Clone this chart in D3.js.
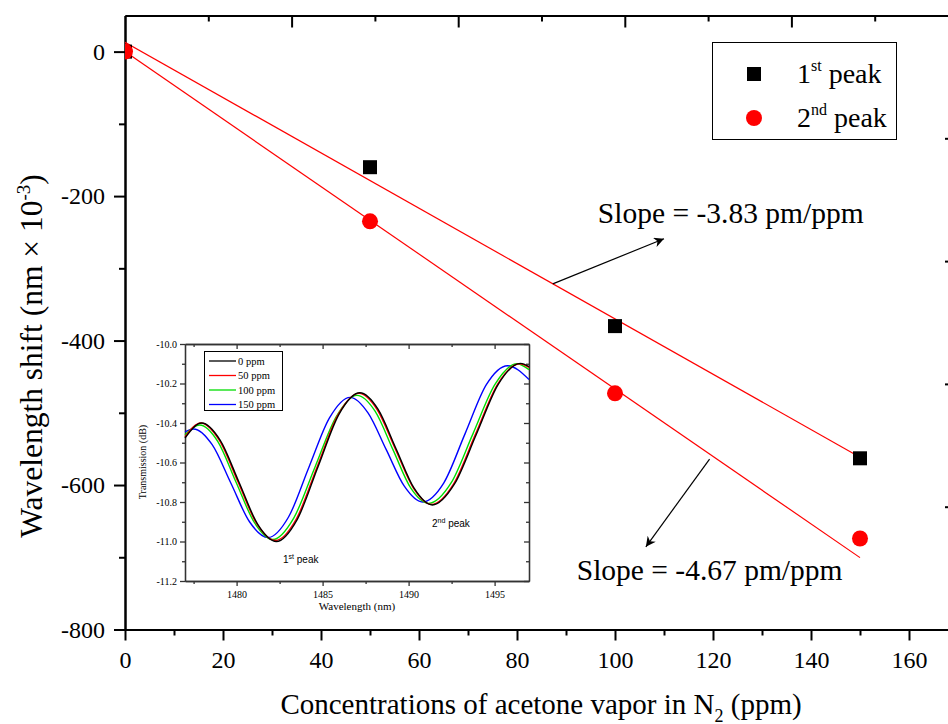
<!DOCTYPE html>
<html>
<head>
<meta charset="utf-8">
<script src="https://cdn.jsdelivr.net/npm/d3@7"></script>
<style>
  body { margin: 0; background: #fff; }
  svg { display: block; }
  text { font-family: "Liberation Serif", "Times New Roman", serif; fill: #000; }
</style>
</head>
<body>
<div id="chart"></div>
<script>
// main plot data (wavelength shift, nm x 10^-3)
var concentrations = [0, 50, 100, 150];
var firstPeakShift = [0, -160, -380, -563];
var secondPeakShift = [0, -235, -473, -674];
var fitSlopes = [-3.83, -4.67];
var fitIntercepts = [13, 0];
var fitLabels = ["Slope = -3.83 pm/ppm", "Slope = -4.67 pm/ppm"];

var xMajorTicks = [0, 20, 40, 60, 80, 100, 120, 140, 160];
var xMinorTicks = [10, 30, 50, 70, 90, 110, 130, 150, 170];
var yMajorTicks = [0, -200, -400, -600, -800];
var yMinorTicks = [-100, -300, -500, -700];

// inset spectra
var insetSeries = ["0 ppm", "50 ppm", "100 ppm", "150 ppm"];
var insetColors = ["#000000", "#ff0000", "#00dd00", "#0000ff"];
var wl0 = [1477.0, 1477.97, 1479.05, 1480.14, 1481.22, 1482.31, 1483.52, 1484.74, 1485.95, 1487.17,
           1488.22, 1489.27, 1490.32, 1491.38, 1492.66, 1493.94, 1495.22, 1496.5, 1497.0];
var tr0 = [-10.476, -10.40, -10.488, -10.70, -10.912, -11.00, -10.889, -10.62, -10.356, -10.247,
           -10.33, -10.53, -10.73, -10.815, -10.71, -10.457, -10.203, -10.098, -10.115];
var wl50 = [1477.0, 1477.92, 1479.0, 1480.09, 1481.17, 1482.26, 1483.47, 1484.69, 1485.9, 1487.12,
            1488.17, 1489.22, 1490.27, 1491.33, 1492.61, 1493.89, 1495.17, 1496.45, 1497.0];
var tr50 = [-10.47, -10.40, -10.488, -10.70, -10.91, -10.995, -10.886, -10.62, -10.358, -10.25,
            -10.332, -10.53, -10.728, -10.812, -10.709, -10.456, -10.204, -10.10, -10.118];
var wl100 = [1477.0, 1477.85, 1478.91, 1479.97, 1481.04, 1482.10, 1483.33, 1484.55, 1485.78, 1487.0,
             1488.05, 1489.09, 1490.13, 1491.17, 1492.46, 1493.74, 1495.02, 1496.3, 1497.0];
var tr100 = [-10.46, -10.41, -10.494, -10.70, -10.905, -10.99, -10.88, -10.625, -10.37, -10.26,
             -10.34, -10.535, -10.73, -10.807, -10.705, -10.455, -10.205, -10.10, -10.13];
var wl150 = [1477.0, 1477.5, 1478.58, 1479.67, 1480.75, 1481.83, 1483.02, 1484.2, 1485.4, 1486.6,
             1487.65, 1488.7, 1489.75, 1490.8, 1492.04, 1493.28, 1494.52, 1495.75, 1497.0];
var tr150 = [-10.445, -10.43, -10.51, -10.705, -10.90, -10.98, -10.876, -10.625, -10.374, -10.27,
             -10.35, -10.535, -10.72, -10.80, -10.704, -10.455, -10.206, -10.11, -10.18];
var insetXTicks = [1480, 1485, 1490, 1495];
var insetXMinor = [1477.5, 1482.5, 1487.5, 1492.5];
var insetYTicks = [-10.0, -10.2, -10.4, -10.6, -10.8, -11.0, -11.2];
var insetYMinor = [-10.1, -10.3, -10.5, -10.7, -10.9, -11.1];

var W = 948, H = 724;
var pLeft = 125, pRight = 958, pTop = 15.5, pBottom = 629.5;
var serif = "'Liberation Serif', 'Times New Roman', serif";

var svg = d3.select("#chart").append("svg")
    .attr("width", W)
    .attr("height", H);

var x = d3.scaleLinear().domain([0, 170]).range([pLeft, pRight]);
var y = d3.scaleLinear().domain([-800, 50]).range([pBottom, pTop]);

var defs = svg.append("defs");
defs.append("clipPath")
    .attr("id", "plot")
    .append("rect")
    .attr("x", pLeft)
    .attr("y", pTop)
    .attr("width", pRight - pLeft)
    .attr("height", pBottom - pTop);

// plain hyphen minus, like the original
var plain = function(d) { return String(d); };

function styleAxis(g) {
    g.attr("font-family", null);
    g.selectAll("path, line").attr("stroke", "#000").attr("stroke-width", 2);
    g.selectAll("text").style("font-family", serif).attr("fill", "#000");
}

// bottom axis
svg.append("g")
    .attr("transform", "translate(0," + pBottom + ")")
    .call(d3.axisBottom(x).tickValues(xMinorTicks).tickSize(6).tickSizeOuter(0).tickFormat(""))
    .call(styleAxis);
svg.append("g")
    .attr("transform", "translate(0," + pBottom + ")")
    .call(d3.axisBottom(x).tickValues(xMajorTicks).tickSize(11).tickPadding(10).tickSizeOuter(0).tickFormat(plain))
    .call(styleAxis)
    .selectAll("text").style("font-size", "24px");

// top axis, ticks inside
var topTicks = d3.range(1, 10).map(function(k) { return k * 17; });
svg.append("g")
    .attr("transform", "translate(0," + pTop + ")")
    .call(d3.axisBottom(x).tickValues(topTicks.filter(function(v, i) { return i % 2 === 0; }))
        .tickSize(6).tickSizeOuter(0).tickFormat(""))
    .call(styleAxis);
svg.append("g")
    .attr("transform", "translate(0," + pTop + ")")
    .call(d3.axisBottom(x).tickValues(topTicks.filter(function(v, i) { return i % 2 === 1; }))
        .tickSize(12).tickSizeOuter(0).tickFormat(""))
    .call(styleAxis);

// left axis
svg.append("g")
    .attr("transform", "translate(" + pLeft + ",0)")
    .call(d3.axisLeft(y).tickValues(yMinorTicks).tickSize(6).tickSizeOuter(0).tickFormat(""))
    .call(styleAxis);
svg.append("g")
    .attr("transform", "translate(" + pLeft + ",0)")
    .call(d3.axisLeft(y).tickValues(yMajorTicks).tickSize(11).tickPadding(9).tickSizeOuter(0).tickFormat(plain))
    .call(styleAxis)
    .selectAll("text").style("font-size", "24px");

// right axis (mostly off the page, only tick tips show)
svg.append("g")
    .attr("transform", "translate(" + pRight + ",0)")
    .call(d3.axisLeft(y).tickValues([-120, -290, -460, -630]).tickSize(13).tickSizeOuter(0).tickFormat(""))
    .call(styleAxis);

// axis titles
var xt = svg.append("text")
    .attr("x", 541)
    .attr("y", 714)
    .attr("text-anchor", "middle")
    .style("font-size", "29px");
xt.append("tspan").text("Concentrations of acetone vapor in N");
xt.append("tspan").attr("dy", 8).style("font-size", "18px").text("2");
xt.append("tspan").attr("dy", -8).text(" (ppm)");

var yt = svg.append("text")
    .attr("transform", "translate(42,356) rotate(-90)")
    .attr("text-anchor", "middle")
    .style("font-size", "31.5px");
yt.append("tspan").text("Wavelength shift (nm \u00d7 10");
yt.append("tspan").attr("dy", -12).style("font-size", "19px").text("-3");
yt.append("tspan").attr("dy", 12).text(")");

// fit lines
var plot = svg.append("g").attr("clip-path", "url(#plot)");
fitSlopes.forEach(function(s, i) {
    plot.append("line")
        .attr("x1", x(0))
        .attr("y1", y(fitIntercepts[i]))
        .attr("x2", x(150))
        .attr("y2", y(fitIntercepts[i] + s * 150))
        .attr("stroke", "#ff0000")
        .attr("stroke-width", 1.2);
});

// markers
plot.selectAll("rect.p1")
    .data(concentrations)
    .enter().append("rect")
    .attr("class", "p1")
    .attr("x", function(d) { return x(d) - 7; })
    .attr("y", function(d, i) { return y(firstPeakShift[i]) - 7; })
    .attr("width", 14)
    .attr("height", 14)
    .attr("fill", "#000");
plot.selectAll("circle.p2")
    .data(concentrations)
    .enter().append("circle")
    .attr("class", "p2")
    .attr("cx", function(d) { return x(d); })
    .attr("cy", function(d, i) { return y(secondPeakShift[i]); })
    .attr("r", 8)
    .attr("fill", "#ff0000");

// arrows + slope labels
defs.append("marker")
    .attr("id", "head")
    .attr("viewBox", "0 0 10 10")
    .attr("refX", 10)
    .attr("refY", 5)
    .attr("markerWidth", 16)
    .attr("markerHeight", 10)
    .attr("markerUnits", "userSpaceOnUse")
    .attr("orient", "auto")
    .append("path")
    .attr("d", "M0,0 L10,5 L0,10 L3,5 Z")
    .attr("fill", "#000");

var arrows = [[87.3, -321.6, 110, -259], [119.3, -564, 106.3, -685.6]];
arrows.forEach(function(a) {
    svg.append("line")
        .attr("x1", x(a[0])).attr("y1", y(a[1]))
        .attr("x2", x(a[2])).attr("y2", y(a[3]))
        .attr("stroke", "#000")
        .attr("stroke-width", 1.2)
        .attr("marker-end", "url(#head)");
});
var labelPos = [[96.5, -237], [92.2, -731]];
fitLabels.forEach(function(t, i) {
    svg.append("text")
        .attr("x", x(labelPos[i][0]))
        .attr("y", y(labelPos[i][1]))
        .style("font-size", "29.5px")
        .text(t);
});

// legend
var legend = svg.append("g");
legend.append("rect")
    .attr("x", 712.5).attr("y", 42.5)
    .attr("width", 184).attr("height", 97)
    .attr("fill", "#fff")
    .attr("stroke", "#000")
    .attr("stroke-width", 1);
legend.append("rect")
    .attr("x", 747).attr("y", 67).attr("width", 14).attr("height", 14)
    .attr("fill", "#000");
legend.append("circle")
    .attr("cx", 754).attr("cy", 118).attr("r", 8)
    .attr("fill", "#ff0000");
var l1 = legend.append("text").attr("x", 797).attr("y", 83).style("font-size", "28px");
l1.append("tspan").text("1");
l1.append("tspan").attr("dy", -12).style("font-size", "16px").text("st");
l1.append("tspan").attr("dy", 12).text(" peak");
var l2 = legend.append("text").attr("x", 797).attr("y", 127).style("font-size", "28px");
l2.append("tspan").text("2");
l2.append("tspan").attr("dy", -12).style("font-size", "16px").text("nd");
l2.append("tspan").attr("dy", 12).text(" peak");

// inset
var ix = d3.scaleLinear().domain([1477, 1497]).range([185, 529]);
var iy = d3.scaleLinear().domain([-11.2, -10.0]).range([581, 344]);
var inset = svg.append("g");
inset.append("rect")
    .attr("x", 185).attr("y", 344)
    .attr("width", 344).attr("height", 237)
    .attr("fill", "#fff");

function styleInset(g) {
    g.attr("font-family", null);
    g.selectAll("path, line").attr("stroke", "#333").attr("stroke-width", 1.3);
    g.selectAll("text").style("font-family", serif).style("font-size", "10px").attr("fill", "#222");
}
inset.append("g").attr("transform", "translate(0,581)")
    .call(d3.axisBottom(ix).tickValues(insetXTicks).tickSize(5).tickPadding(5).tickSizeOuter(0).tickFormat(plain))
    .call(styleInset);
inset.append("g").attr("transform", "translate(0,581)")
    .call(d3.axisBottom(ix).tickValues(insetXMinor).tickSize(3).tickSizeOuter(0).tickFormat(""))
    .call(styleInset);
inset.append("g").attr("transform", "translate(0,344)")
    .call(d3.axisBottom(ix).tickValues(insetXTicks).tickSize(5).tickSizeOuter(0).tickFormat(""))
    .call(styleInset);
inset.append("g").attr("transform", "translate(0,344)")
    .call(d3.axisBottom(ix).tickValues(insetXMinor).tickSize(3).tickSizeOuter(0).tickFormat(""))
    .call(styleInset);
inset.append("g").attr("transform", "translate(185,0)")
    .call(d3.axisLeft(iy).tickValues(insetYTicks).tickSize(5).tickPadding(3).tickSizeOuter(0)
        .tickFormat(function(d) { return d.toFixed(1); }))
    .call(styleInset);
inset.append("g").attr("transform", "translate(185,0)")
    .call(d3.axisLeft(iy).tickValues(insetYMinor).tickSize(3).tickSizeOuter(0).tickFormat(""))
    .call(styleInset);
inset.append("g").attr("transform", "translate(529,0)")
    .call(d3.axisLeft(iy).tickValues(insetYTicks).tickSize(5).tickSizeOuter(0).tickFormat(""))
    .call(styleInset);
inset.append("g").attr("transform", "translate(529,0)")
    .call(d3.axisLeft(iy).tickValues(insetYMinor).tickSize(3).tickSizeOuter(0).tickFormat(""))
    .call(styleInset);

inset.append("text")
    .attr("x", 357).attr("y", 610)
    .attr("text-anchor", "middle")
    .style("font-size", "11px")
    .text("Wavelength (nm)");
inset.append("text")
    .attr("transform", "translate(146,462) rotate(-90)")
    .attr("text-anchor", "middle")
    .style("font-size", "10px")
    .text("Transmission (dB)");

var spectra = [[wl0, tr0], [wl50, tr50], [wl100, tr100], [wl150, tr150]];
var line = d3.line()
    .x(function(d) { return ix(d[0]); })
    .y(function(d) { return iy(d[1]); })
    .curve(d3.curveMonotoneX);
// draw 150 first so black sits on top
[3, 2, 1, 0].forEach(function(k) {
    var pts = spectra[k][0].map(function(w, i) { return [w, spectra[k][1][i]]; });
    inset.append("path")
        .attr("d", line(pts))
        .attr("fill", "none")
        .attr("stroke", insetColors[k])
        .attr("stroke-width", 1.4);
});

// inset legend
var il = inset.append("g");
il.append("rect")
    .attr("x", 204.5).attr("y", 351.5)
    .attr("width", 78).attr("height", 59)
    .attr("fill", "#fff")
    .attr("stroke", "#000")
    .attr("stroke-width", 1);
insetSeries.forEach(function(s, i) {
    var yy = 361 + i * 14.5;
    il.append("line")
        .attr("x1", 209).attr("x2", 236)
        .attr("y1", yy).attr("y2", yy)
        .attr("stroke", insetColors[i])
        .attr("stroke-width", 1.3);
    il.append("text")
        .attr("x", 238).attr("y", yy + 3.5)
        .style("font-size", "10.5px")
        .text(s);
});

// peak labels
var pk1 = inset.append("text").attr("x", 283).attr("y", 563)
    .style("font-family", "'Liberation Sans', Arial, sans-serif").style("font-size", "10px");
pk1.append("tspan").text("1");
pk1.append("tspan").attr("dy", -4).style("font-size", "7px").text("st");
pk1.append("tspan").attr("dy", 4).text(" peak");
var pk2 = inset.append("text").attr("x", 432).attr("y", 527)
    .style("font-family", "'Liberation Sans', Arial, sans-serif").style("font-size", "10px");
pk2.append("tspan").text("2");
pk2.append("tspan").attr("dy", -4).style("font-size", "7px").text("nd");
pk2.append("tspan").attr("dy", 4).text(" peak");
</script>
</body>
</html>
